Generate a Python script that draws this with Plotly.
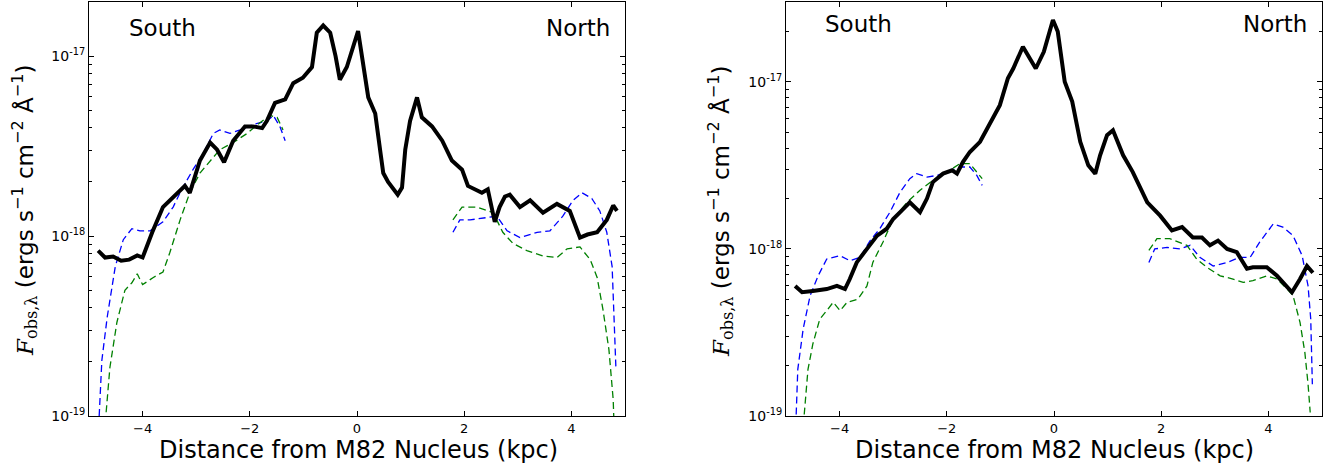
import plotly.graph_objects as go

# ---------------- data ----------------
# Left panel: black observed profile
L_obs_x = [-4.83, -4.70, -4.55, -4.40, -4.25, -4.10, -4.00, -3.82, -3.62, -3.36, -3.21, -3.12, -2.93, -2.74,
           -2.61, -2.48, -2.31, -2.09, -1.94, -1.77, -1.68, -1.53, -1.34, -1.19, -1.01, -0.84, -0.75, -0.63,
           -0.50, -0.40, -0.32, -0.19, 0.02, 0.21, 0.34, 0.44, 0.49, 0.58, 0.76, 0.84, 0.90, 0.99, 1.12, 1.21,
           1.40, 1.59, 1.77, 1.96, 2.07, 2.33, 2.44, 2.57, 2.66, 2.76, 2.85, 3.04, 3.23, 3.47, 3.73, 3.97,
           4.16, 4.30, 4.48, 4.66, 4.78, 4.85]
L_obs_y = [8.3e-19, 7.6e-19, 7.7e-19, 7.3e-19, 7.4e-19, 7.8e-19, 7.6e-19, 1.05e-18, 1.45e-18, 1.74e-18,
           1.9e-18, 1.74e-18, 2.63e-18, 3.31e-18, 3.02e-18, 2.57e-18, 3.39e-18, 4.07e-18, 4.07e-18, 3.98e-18,
           4.37e-18, 5.5e-18, 5.75e-18, 7.08e-18, 7.59e-18, 8.7e-18, 1.35e-17, 1.48e-17, 1.35e-17, 1.0e-17,
           7.4e-18, 8.7e-18, 1.38e-17, 5.9e-18, 4.8e-18, 2.88e-18, 2.24e-18, 2.0e-18, 1.7e-18, 1.86e-18,
           3.02e-18, 4.37e-18, 5.9e-18, 4.57e-18, 4.07e-18, 3.39e-18, 2.63e-18, 2.34e-18, 1.9e-18, 1.74e-18,
           1.82e-18, 1.2e-18, 1.45e-18, 1.66e-18, 1.7e-18, 1.45e-18, 1.58e-18, 1.35e-18, 1.51e-18, 1.38e-18,
           9.8e-19, 1.02e-18, 1.05e-18, 1.23e-18, 1.48e-18, 1.38e-18]

# Left panel: blue dashed model (south / north parts)
L_blue_s_x = [-4.81, -4.76, -4.66, -4.51, -4.36, -4.20, -4.05, -3.86, -3.62, -3.43, -3.27, -3.06, -2.87,
              -2.68, -2.56, -2.37, -2.18, -1.94, -1.68, -1.56, -1.44, -1.34]
L_blue_s_y = [1.0e-19, 2.04e-19, 3.55e-19, 6.76e-19, 9.55e-19, 1.1e-18, 1.07e-18, 1.07e-18, 1.2e-18,
              1.45e-18, 1.82e-18, 2.34e-18, 2.88e-18, 3.72e-18, 3.89e-18, 3.72e-18, 3.89e-18, 4.17e-18,
              4.37e-18, 4.68e-18, 4.07e-18, 3.39e-18]
L_blue_n_x = [1.79, 1.92, 2.11, 2.35, 2.61, 2.80, 3.04, 3.36, 3.60, 3.84, 4.03, 4.20, 4.38, 4.53, 4.66,
              4.76, 4.79, 4.83]
L_blue_n_y = [1.05e-18, 1.23e-18, 1.23e-18, 1.26e-18, 1.29e-18, 1.07e-18, 9.8e-19, 1.05e-18, 1.07e-18,
              1.29e-18, 1.58e-18, 1.74e-18, 1.62e-18, 1.38e-18, 1.05e-18, 6.76e-19, 3.55e-19, 1.86e-19]

# Left panel: green dashed model
L_green_s_x = [-4.68, -4.61, -4.48, -4.33, -4.20, -4.10, -4.00, -3.80, -3.62, -3.49, -3.30, -3.12, -2.93,
               -2.74, -2.56, -2.31, -2.05, -1.81, -1.62, -1.49, -1.38]
L_green_s_y = [1.05e-19, 1.86e-19, 3.31e-19, 5.0e-19, 5.5e-19, 6.17e-19, 5.37e-19, 5.89e-19, 6.31e-19,
               8.13e-19, 1.23e-18, 1.74e-18, 2.24e-18, 2.63e-18, 3.02e-18, 3.31e-18, 3.72e-18, 4.27e-18,
               4.68e-18, 4.57e-18, 3.89e-18]
L_green_n_x = [1.79, 1.96, 2.24, 2.54, 2.72, 2.91, 3.17, 3.47, 3.73, 3.92, 4.16, 4.35, 4.48, 4.59, 4.70,
               4.78, 4.79]
L_green_n_y = [1.23e-18, 1.45e-18, 1.45e-18, 1.35e-18, 1.05e-18, 9.1e-19, 8.3e-19, 7.76e-19, 7.59e-19,
               8.5e-19, 8.7e-19, 7.4e-19, 5.89e-19, 3.89e-19, 2.34e-19, 1.23e-19, 1.0e-19]

# Right panel: black observed profile
R_obs_x = [-4.83, -4.70, -4.50, -4.24, -4.05, -3.90, -3.81, -3.68, -3.49, -3.30, -3.12, -3.00, -2.87,
           -2.69, -2.50, -2.37, -2.26, -2.07, -1.90, -1.81, -1.70, -1.57, -1.38, -1.19, -1.01, -0.86, -0.76,
           -0.58, -0.34, -0.19, -0.02, 0.07, 0.20, 0.34, 0.49, 0.64, 0.77, 0.86, 0.99, 1.10, 1.29, 1.47,
           1.74, 1.98, 2.20, 2.39, 2.59, 2.76, 2.91, 3.06, 3.23, 3.41, 3.60, 3.71, 3.97, 4.16, 4.27, 4.44,
           4.59, 4.72, 4.83]
R_obs_y = [6.0e-19, 5.5e-19, 5.6e-19, 5.75e-19, 6.0e-19, 5.75e-19, 6.6e-19, 8.3e-19, 1.0e-18, 1.2e-18,
           1.32e-18, 1.51e-18, 1.66e-18, 1.9e-18, 1.66e-18, 2.0e-18, 2.51e-18, 2.82e-18, 2.95e-18, 2.82e-18,
           3.31e-18, 3.8e-18, 4.37e-18, 5.75e-18, 7.24e-18, 1.05e-17, 1.2e-17, 1.62e-17, 1.2e-17, 1.51e-17,
           2.34e-17, 2.0e-17, 1.0e-17, 7.6e-18, 4.37e-18, 3.16e-18, 2.82e-18, 3.63e-18, 4.79e-18, 5.13e-18,
           3.63e-18, 2.88e-18, 1.9e-18, 1.58e-18, 1.29e-18, 1.35e-18, 1.17e-18, 1.17e-18, 1.05e-18, 1.12e-18,
           1.0e-18, 9.55e-19, 7.6e-19, 7.76e-19, 7.76e-19, 6.9e-19, 6.3e-19, 5.5e-19, 6.6e-19, 7.9e-19, 7.2e-19]

# Right panel: blue dashed model
R_blue_s_x = [-4.81, -4.78, -4.68, -4.55, -4.40, -4.24, -3.99, -3.81, -3.62, -3.43, -3.25, -3.06, -2.87,
              -2.69, -2.56, -2.37, -2.18, -1.94, -1.75, -1.57, -1.44, -1.34]
R_blue_s_y = [1.02e-19, 1.9e-19, 3.31e-19, 5.25e-19, 6.9e-19, 8.7e-19, 9.1e-19, 8.5e-19, 8.9e-19,
              1.12e-18, 1.32e-18, 1.66e-18, 2.19e-18, 2.63e-18, 2.82e-18, 2.69e-18, 2.75e-18, 2.95e-18,
              3.09e-18, 3.09e-18, 2.75e-18, 2.4e-18]
R_blue_n_x = [1.77, 1.88, 2.11, 2.35, 2.54, 2.72, 2.97, 3.23, 3.47, 3.66, 3.84, 4.09, 4.27, 4.46, 4.63,
              4.74, 4.79, 4.81, 4.82]
R_blue_n_y = [8.3e-19, 1.0e-18, 1.02e-18, 1.0e-18, 1.05e-18, 8.9e-19, 7.9e-19, 8.3e-19, 8.9e-19, 8.9e-19,
              1.1e-18, 1.41e-18, 1.35e-18, 1.2e-18, 9.1e-19, 6.0e-19, 3.8e-19, 1.9e-19, 1.55e-19]

# Right panel: green dashed model
R_green_s_x = [-4.66, -4.59, -4.50, -4.37, -4.24, -4.12, -3.99, -3.86, -3.66, -3.49, -3.38, -3.19, -3.00,
               -2.74, -2.50, -2.26, -2.00, -1.75, -1.57, -1.44, -1.34]
R_green_s_y = [1.02e-19, 1.9e-19, 2.69e-19, 3.8e-19, 4.27e-19, 4.79e-19, 4.27e-19, 4.79e-19, 5.0e-19,
               6.0e-19, 8.3e-19, 1.1e-18, 1.51e-18, 1.9e-18, 2.24e-18, 2.57e-18, 2.88e-18, 3.24e-18,
               3.24e-18, 2.88e-18, 2.63e-18]
R_green_n_x = [1.77, 1.92, 2.16, 2.48, 2.66, 2.85, 3.10, 3.34, 3.53, 3.71, 3.97, 4.16, 4.35, 4.46, 4.59,
               4.68, 4.74, 4.78]
R_green_n_y = [9.8e-19, 1.15e-18, 1.15e-18, 1.05e-18, 8.7e-19, 7.76e-19, 6.9e-19, 6.6e-19, 6.3e-19,
               6.46e-19, 6.9e-19, 6.6e-19, 5.75e-19, 5.25e-19, 3.63e-19, 2.4e-19, 1.55e-19, 1.05e-19]

x_ticks = [-4, -2, 0, 2, 4]
y_ticks = [1e-19, 1e-18, 1e-17]
y_ticktext = ["10<sup>-19</sup>", "10<sup>-18</sup>", "10<sup>-17</sup>"]
x_title = "Distance from M82 Nucleus (kpc)"
y_title = ('<span style="font-family:DejaVu Serif"><i>F</i><sub>obs,λ</sub></span>'
           ' (ergs s<sup>−1</sup> cm<sup>−2</sup> Å<sup>−1</sup>)')

# ---------------- figure ----------------
W, H = 1331, 465
FONT = "DejaVu Sans"
fig = go.Figure()

BLUE = "#0000ff"
GREEN = "#008000"
DASH = "7px,4px"

def add_panel(xa, ya, ox, oy, bsx, bsy, bnx, bny, gsx, gsy, gnx, gny):
    for xs, ys, c in [(bsx, bsy, BLUE), (bnx, bny, BLUE), (gsx, gsy, GREEN), (gnx, gny, GREEN)]:
        fig.add_trace(go.Scatter(x=xs, y=ys, mode="lines", xaxis=xa, yaxis=ya,
                                 line=dict(color=c, width=1.3, dash=DASH), showlegend=False,
                                 hoverinfo="skip"))
    fig.add_trace(go.Scatter(x=ox, y=oy, mode="lines", xaxis=xa, yaxis=ya,
                             line=dict(color="black", width=4), showlegend=False))

add_panel("x", "y", L_obs_x, L_obs_y, L_blue_s_x, L_blue_s_y, L_blue_n_x, L_blue_n_y,
          L_green_s_x, L_green_s_y, L_green_n_x, L_green_n_y)
add_panel("x2", "y2", R_obs_x, R_obs_y, R_blue_s_x, R_blue_s_y, R_blue_n_x, R_blue_n_y,
          R_green_s_x, R_green_s_y, R_green_n_x, R_green_n_y)

def px2fx(p):
    return p / W

def py2fy(p):
    return (H - p) / H

ydom = [py2fy(416), py2fy(2)]
common_x = dict(range=[-5, 5], tickvals=x_ticks, ticks="inside", ticklen=5, tickwidth=1,
                tickcolor="black", showline=True, linecolor="black", linewidth=1, mirror="ticks",
                showgrid=False, zeroline=False, automargin=False,
                tickfont=dict(family=FONT, size=13, color="black"))
common_y = dict(type="log", tickvals=y_ticks, ticktext=y_ticktext, ticks="inside", ticklen=5,
                tickwidth=1, tickcolor="black", showline=True, linecolor="black", linewidth=1,
                mirror="ticks", showgrid=False, zeroline=False, automargin=False,
                tickfont=dict(family=FONT, size=14, color="black"),
                minor=dict(ticks="inside", ticklen=3, tickcolor="black", tickwidth=1,
                           dtick="D1", showgrid=False))

fig.update_layout(
    width=W, height=H, margin=dict(l=0, r=0, t=0, b=0),
    paper_bgcolor="white", plot_bgcolor="white", template="none",
    xaxis=dict(domain=[px2fx(89), px2fx(625)], anchor="y", **common_x),
    yaxis=dict(domain=ydom, anchor="x", range=[-19, -16.69897], **common_y),
    xaxis2=dict(domain=[px2fx(786), px2fx(1322)], anchor="y2", **common_x),
    yaxis2=dict(domain=ydom, anchor="x2", range=[-19, -16.5229], **common_y),
)

ann = []
tf = dict(family=FONT, size=24, color="black")
yf = dict(family=FONT, size=23, color="black")
# x titles
ann.append(dict(text=x_title, x=px2fx(358), y=py2fy(450), xref="paper", yref="paper",
                showarrow=False, font=tf, xanchor="center", yanchor="middle"))
ann.append(dict(text=x_title, x=px2fx(1054), y=py2fy(450), xref="paper", yref="paper",
                showarrow=False, font=tf, xanchor="center", yanchor="middle"))
# y titles
ann.append(dict(text=y_title, x=px2fx(24), y=py2fy(210), xref="paper", yref="paper",
                showarrow=False, font=yf, textangle=-90, xanchor="center", yanchor="middle"))
ann.append(dict(text=y_title, x=px2fx(720), y=py2fy(211), xref="paper", yref="paper",
                showarrow=False, font=yf, textangle=-90, xanchor="center", yanchor="middle"))
# South / North labels
lf = dict(family=FONT, size=23, color="black")
ann.append(dict(text="South", x=px2fx(127), y=py2fy(28), xref="paper", yref="paper",
                showarrow=False, font=lf, xanchor="left", yanchor="middle"))
ann.append(dict(text="North", x=px2fx(612), y=py2fy(28), xref="paper", yref="paper",
                showarrow=False, font=lf, xanchor="right", yanchor="middle"))
ann.append(dict(text="South", x=px2fx(823), y=py2fy(24), xref="paper", yref="paper",
                showarrow=False, font=lf, xanchor="left", yanchor="middle"))
ann.append(dict(text="North", x=px2fx(1309), y=py2fy(24), xref="paper", yref="paper",
                showarrow=False, font=lf, xanchor="right", yanchor="middle"))
fig.update_layout(annotations=ann)

fig.write_html("out.html", config={"displayModeBar": False},
               post_script="document.body.style.margin='0';document.body.style.overflow='hidden';")
